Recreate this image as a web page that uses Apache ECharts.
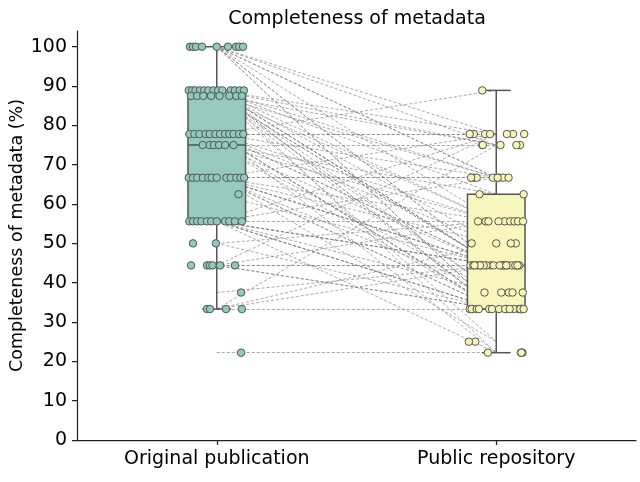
<!DOCTYPE html>
<html><head><meta charset="utf-8">
<script src="https://cdn.jsdelivr.net/npm/echarts@6/dist/echarts.min.js"></script>
<style>html,body{margin:0;padding:0;background:#fff}#c{width:640px;height:482px}</style>
</head><body><div id="c"></div>
<script>
const categories = ['Original publication', 'Public repository'];
const yTicks = [0, 10, 20, 30, 40, 50, 60, 70, 80, 90, 100];
// [lower whisker, Q1, median, Q3, upper whisker]
const boxOriginal = [33.3, 55.6, 75, 88.9, 100];
const boxRepository = [22.2, 33.3, 44.4, 62.5, 88.9];

const originalValues = [
  100,100,100,100,100,100,100,100,100,
  88.9,88.9,88.9,88.9,88.9,88.9,88.9,88.9,88.9,88.9,88.9,88.9,88.9,
  87.5,87.5,87.5,87.5,87.5,87.5,87.5,87.5,
  77.8,77.8,77.8,77.8,77.8,77.8,77.8,77.8,77.8,77.8,77.8,77.8,
  75,75,75,75,75,75,
  66.7,66.7,66.7,66.7,66.7,66.7,66.7,66.7,66.7,66.7,66.7,66.7,
  62.5,
  55.6,55.6,55.6,55.6,55.6,55.6,55.6,55.6,55.6,55.6,55.6,
  50,50,
  44.4,44.4,44.4,44.4,44.4,44.4,
  37.5,
  33.3,33.3,33.3,33.3,
  22.2
];
const repositoryValues = [
  77.8,66.7,55.6,44.4,33.3,75,66.7,44.4,33.3,
  77.8,75,66.7,55.6,44.4,44.4,33.3,33.3,22.2,50,62.5,37.5,44.4,
  75,66.7,55.6,44.4,33.3,25,37.5,44.4,
  88.9,77.8,66.7,55.6,44.4,33.3,33.3,44.4,50,22.2,77.8,33.3,
  75,55.6,44.4,33.3,37.5,62.5,
  77.8,66.7,55.6,44.4,44.4,33.3,33.3,50,25,66.7,37.5,44.4,
  44.4,
  77.8,66.7,55.6,44.4,33.3,33.3,44.4,37.5,44.4,33.3,22.2,
  55.6,33.3,
  44.4,55.6,33.3,44.4,77.8,33.3,
  44.4,
  33.3,50,44.4,75,
  22.2
];
const originalJitter = [
  -0.096,-0.085,-0.074,-0.053,0.0,0.04,0.069,0.08,0.094,
  -0.1,-0.088,-0.076,-0.06,-0.045,-0.03,-0.012,0.005,0.02,0.05,0.065,0.082,0.097,
  -0.092,-0.07,-0.048,-0.02,0.01,0.045,0.07,0.09,
  -0.098,-0.08,-0.062,-0.04,-0.025,-0.005,0.012,0.03,0.045,0.06,0.08,0.095,
  -0.05,-0.025,-0.01,0.008,0.03,0.06,
  -0.1,-0.085,-0.07,-0.05,-0.03,-0.018,0.0,0.035,0.05,0.07,0.085,0.098,
  0.078,
  -0.098,-0.085,-0.07,-0.055,-0.035,-0.02,0.0,0.03,0.045,0.065,0.09,
  -0.085,-0.003,
  -0.092,-0.035,-0.025,-0.015,0.012,0.065,
  0.087,
  -0.035,-0.024,0.033,0.09,
  0.087
];
const repositoryJitter = [
  0.06,-0.08,0.03,-0.02,0.09,-0.05,0.01,0.075,-0.095,
  -0.04,0.085,-0.07,0.05,-0.01,0.02,-0.085,0.035,-0.03,0.07,-0.06,0.095,0.04,
  0.015,-0.09,0.065,-0.055,0.08,-0.075,0.045,-0.035,
  -0.05,0.1,0.025,-0.065,0.055,-0.025,0.09,-0.045,0.0,0.088,-0.08,-0.015,
  0.072,0.008,-0.092,0.062,0.018,0.098,
  0.038,-0.012,0.078,-0.068,0.028,0.092,-0.088,0.052,-0.098,0.005,-0.042,0.068,
  0.025,
  -0.022,0.044,0.096,-0.058,0.01,-0.07,0.082,0.058,-0.082,0.032,0.094,
  -0.038,0.086,
  0.012,-0.028,-0.062,0.076,-0.095,0.048,
  -0.078,
  0.098,-0.088,0.036,-0.048,
  0.09
];

const boxFill = ['#96cac1', '#f6f6bd'];
const pointFill = ['#8fcabd', '#f7f6b6'];
const edge = '#555555';
const FONT = 'DejaVu Sans';

const chart = echarts.init(document.getElementById('c'), null, {renderer: 'canvas'});
chart.setOption({
  animation: false,
  backgroundColor: '#ffffff',
  textStyle: {fontFamily: FONT},
  title: {
    text: 'Completeness of metadata', left: 352, top: 5, textAlign: 'center',
    textStyle: {fontFamily: FONT, fontSize: 19, fontWeight: 'normal', color: '#000'}
  },
  grid: {left: 77, right: 4, top: 31, bottom: 42, containLabel: false, outerBoundsMode: 'none'},
  xAxis: [
    {
      type: 'category', data: categories, boundaryGap: true,
      axisLine: {show: true, onZero: false, lineStyle: {color: '#222', width: 1.25}},
      axisTick: {show: true, alignWithLabel: true, length: 5, lineStyle: {color: '#222', width: 1.25}},
      axisLabel: {fontFamily: FONT, fontSize: 19, color: '#000', margin: 10},
      splitLine: {show: false}
    },
    {
      type: 'value', min: -0.5, max: 1.5, show: false, splitLine: {show: false}
    }
  ],
  yAxis: {
    type: 'value', min: 0, max: 104,
    name: 'Completeness of metadata (%)', nameLocation: 'middle', nameGap: 51,
    nameMoveOverlap: false,
    nameTextStyle: {fontFamily: FONT, fontSize: 17.5, color: '#000'},
    axisLine: {show: true, onZero: false, lineStyle: {color: '#222', width: 1.25}},
    axisTick: {show: true, length: 5, customValues: yTicks, lineStyle: {color: '#222', width: 1.25}},
    axisLabel: {fontFamily: FONT, fontSize: 19, color: '#000', margin: 10, customValues: yTicks},
    splitLine: {show: false}
  },
  series: [
    {
      type: 'lines', coordinateSystem: 'cartesian2d', xAxisIndex: 1, z: 1,
      silent: true,
      lineStyle: {color: '#808080', width: 0.75, type: [3, 2], opacity: 0.9},
      data: originalValues.map((v, i) => ({coords: [[0, v], [1, repositoryValues[i]]]}))
    },
    {
      type: 'custom', xAxisIndex: 1, z: 2,
      encode: {x: 0, y: [1, 2, 3, 4, 5]},
      data: [[0].concat(boxOriginal), [1].concat(boxRepository)],
      renderItem: function (params, api) {
        const x = api.value(0);
        const band = api.size([1, 0])[0];
        const hw = band * 0.103;
        const cx = api.coord([x, 0])[0];
        const yy = k => api.coord([x, api.value(k)])[1];
        const lo = yy(1), q1 = yy(2), med = yy(3), q3 = yy(4), hi = yy(5);
        const st = {stroke: edge, lineWidth: 1.5, fill: null};
        return {type: 'group', children: [
          {type: 'line', shape: {x1: cx, y1: q3, x2: cx, y2: hi}, style: st},
          {type: 'line', shape: {x1: cx, y1: q1, x2: cx, y2: lo}, style: st},
          {type: 'line', shape: {x1: cx - hw / 2, y1: hi, x2: cx + hw / 2, y2: hi}, style: st},
          {type: 'line', shape: {x1: cx - hw / 2, y1: lo, x2: cx + hw / 2, y2: lo}, style: st},
          {type: 'rect', shape: {x: cx - hw, y: q3, width: 2 * hw, height: q1 - q3},
            style: {fill: boxFill[params.dataIndex], stroke: edge, lineWidth: 1.5}},
          {type: 'line', shape: {x1: cx - hw, y1: med, x2: cx + hw, y2: med}, style: st}
        ]};
      }
    },
    {
      type: 'scatter', xAxisIndex: 1, z: 3, symbol: 'circle', symbolSize: 7.5,
      itemStyle: {color: pointFill[0], borderColor: edge, borderWidth: 1, opacity: 1},
      data: originalValues.map((v, i) => [originalJitter[i], v])
    },
    {
      type: 'scatter', xAxisIndex: 1, z: 3, symbol: 'circle', symbolSize: 7.5,
      itemStyle: {color: pointFill[1], borderColor: edge, borderWidth: 1, opacity: 1},
      data: repositoryValues.map((v, i) => [1 + repositoryJitter[i], v])
    }
  ]
});
</script>
</body></html>
